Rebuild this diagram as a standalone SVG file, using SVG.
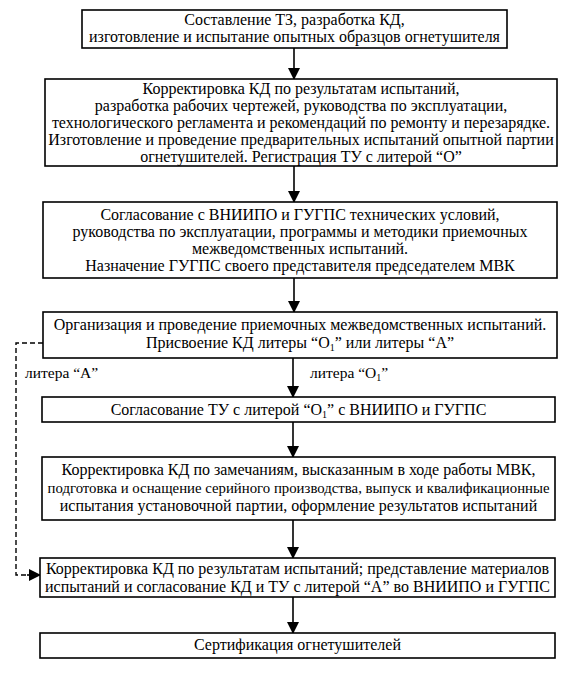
<svg xmlns="http://www.w3.org/2000/svg" width="565" height="673" viewBox="0 0 565 673">
<defs>
<style>
.box{fill:#fff;stroke:#000;stroke-width:1.6}
.t{font-size:16px;fill:#000;text-anchor:middle}
.lbl{font-size:15.5px;fill:#000}
.c{fill:none;stroke:#000;stroke-width:1.6}
.d{fill:none;stroke:#000;stroke-width:1.4;stroke-dasharray:5 3}
</style>
<marker id="ah" markerWidth="12" markerHeight="14" refX="11" refY="6" orient="auto" markerUnits="userSpaceOnUse">
<path d="M0,0 L12,6 L0,12 Z" fill="#000"/>
</marker>
</defs>
<rect width="565" height="673" fill="#fff"/>
<g font-family="'Liberation Serif', 'Times New Roman', serif">
<g id="connectors">
<line class="c" x1="294" y1="48" x2="294" y2="79" marker-end="url(#ah)"/>
<line class="c" x1="294" y1="166" x2="294" y2="202" marker-end="url(#ah)"/>
<line class="c" x1="294" y1="278" x2="294" y2="312" marker-end="url(#ah)"/>
<line class="c" x1="293" y1="358" x2="293" y2="397" marker-end="url(#ah)"/>
<line class="c" x1="293" y1="422" x2="293" y2="457" marker-end="url(#ah)"/>
<line class="c" x1="293" y1="520" x2="293" y2="558" marker-end="url(#ah)"/>
<line class="c" x1="293" y1="597" x2="293" y2="633" marker-end="url(#ah)"/>
<polyline class="d" points="43,343 16,343 16,575 28,575"/>
<line class="c" x1="27" y1="575" x2="40" y2="575" marker-end="url(#ah)"/>
<text class="lbl" x="25" y="378">литера “А”</text>
<text class="lbl" x="310" y="378">литера “О<tspan font-size="10" dy="3">1</tspan><tspan dy="-3">”</tspan></text>
</g>
<g id="n1">
<rect class="box" x="82" y="10" width="425" height="38"/>
<text class="t" x="294.5" y="25">Составление ТЗ, разработка КД,</text>
<text class="t" x="294.5" y="42">изготовление и испытание опытных образцов огнетушителя</text>
</g>
<g id="n2">
<rect class="box" x="45" y="79" width="512" height="87"/>
<text class="t" x="301" y="94">Корректировка КД по результатам испытаний,</text>
<text class="t" x="301" y="111">разработка рабочих чертежей, руководства по эксплуатации,</text>
<text class="t" x="301" y="128">технологического регламента и рекомендаций по ремонту и перезарядке.</text>
<text class="t" x="301" y="145">Изготовление и проведение предварительных испытаний опытной партии</text>
<text class="t" x="301" y="162">огнетушителей. Регистрация ТУ с литерой “О”</text>
</g>
<g id="n3">
<rect class="box" x="43" y="202" width="514" height="76"/>
<text class="t" x="300" y="220">Согласование с ВНИИПО и ГУГПС технических условий,</text>
<text class="t" x="300" y="237">руководства по эксплуатации, программы и методики приемочных</text>
<text class="t" x="300" y="254">межведомственных испытаний.</text>
<text class="t" x="300" y="271">Назначение ГУГПС своего представителя председателем МВК</text>
</g>
<g id="n4">
<rect class="box" x="43" y="312" width="514" height="46"/>
<text class="t" x="300" y="330">Организация и проведение приемочных межведомственных испытаний.</text>
<text class="t" x="300" y="348">Присвоение КД литеры “О<tspan font-size="10" dy="3">1</tspan><tspan dy="-3">” или литеры “А”</tspan></text>
</g>
<g id="n5">
<rect class="box" x="42" y="397" width="513" height="25"/>
<text class="t" x="298.5" y="415">Согласование ТУ с литерой “О<tspan font-size="10" dy="3">1</tspan><tspan dy="-3">” с ВНИИПО и ГУГПС</tspan></text>
</g>
<g id="n6">
<rect class="box" x="42" y="457" width="513" height="63"/>
<text class="t" x="298.5" y="475">Корректировка КД по замечаниям, высказанным в ходе работы МВК,</text>
<text class="t" x="298.5" y="493" style="font-size:14.8px">подготовка и оснащение серийного производства, выпуск и квалификационные</text>
<text class="t" x="298.5" y="511">испытания установочной партии, оформление результатов испытаний</text>
</g>
<g id="n7">
<rect class="box" x="40" y="558" width="515" height="39"/>
<text class="t" x="297.5" y="574">Корректировка КД по результатам испытаний; представление материалов</text>
<text class="t" x="297.5" y="592">испытаний и согласование КД и ТУ с литерой “А” во ВНИИПО и ГУГПС</text>
</g>
<g id="n8">
<rect class="box" x="40" y="633" width="515" height="25"/>
<text class="t" x="297.5" y="650">Сертификация огнетушителей</text>
</g>
</g>
</svg>
